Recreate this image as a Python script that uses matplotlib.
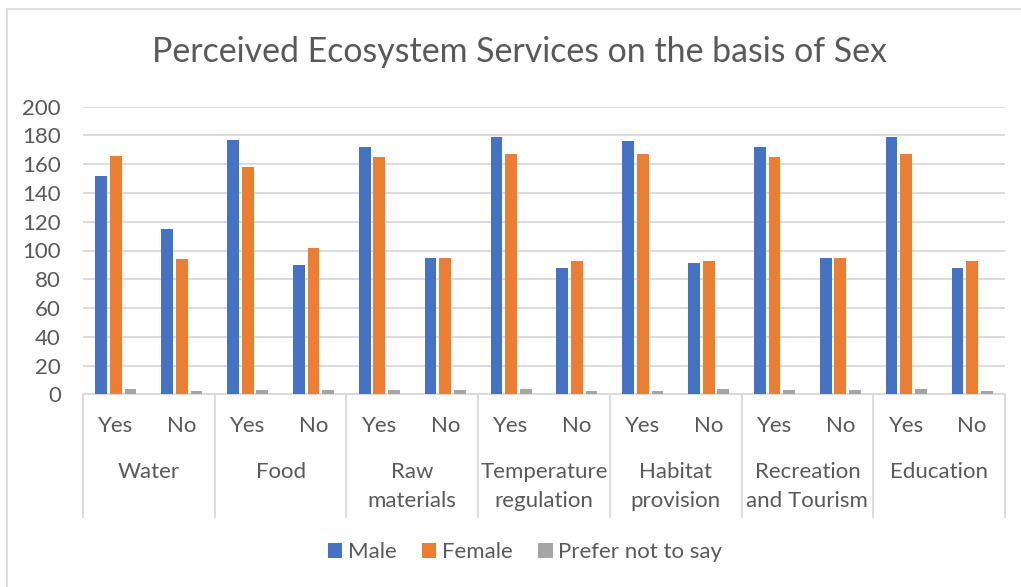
import matplotlib
matplotlib.use("Agg")
import matplotlib.pyplot as plt
from matplotlib.patches import Rectangle
import numpy as np

plt.rcParams['font.family'] = ['Lato', 'DejaVu Sans']

# Data
groups = [["Water"], ["Food"], ["Raw", "materials"], ["Temperature", "regulation"],
          ["Habitat", "provision"], ["Recreation", "and Tourism"], ["Education"]]
answers = ["Yes", "No"]
series_names = ["Male", "Female", "Prefer not to say"]
male = [152, 115, 177, 90, 172, 95, 179, 88, 176, 91, 172, 95, 179, 88]
female = [166, 94, 158, 102, 165, 95, 167, 93, 167, 93, 165, 95, 167, 93]
prefer_not = [4, 2, 3, 3, 3, 3, 4, 2, 2, 4, 3, 3, 4, 2]
yticks = list(range(0, 201, 20))

colors = ["#4472C4", "#ED7D31", "#A5A5A5"]
text_color = "#595959"
grid_color = "#D9D9D9"

W, H = 1021, 587
fig = plt.figure(figsize=(W / 100, H / 100), dpi=100)

# Chart area border
fig.patches.append(Rectangle((7 / W, -0.1), 2, 1 - 9 / H + 0.1, transform=fig.transFigure,
                             fill=False, edgecolor=grid_color, linewidth=1.2))

x0, x1 = 83, 1005
y_top, y_bot = 106.7, 394.3
ax = fig.add_axes([x0 / W, 1 - y_bot / H, (x1 - x0) / W, (y_bot - y_top) / H])

n = len(male)
x = np.arange(n)
offset = 0.223
width = 0.178
for i, (vals, c, name) in enumerate(zip([male, female, prefer_not], colors, series_names)):
    ax.bar(x + (i - 1) * offset, vals, width=width, color=c, label=name, zorder=3)

fs = 16
ax.set_xlim(-0.5, n - 0.5)
ax.set_ylim(0, 200)
ax.set_yticks(yticks)
ax.set_yticklabels([str(v) for v in yticks], fontsize=fs, color=text_color)
ax.tick_params(axis='y', length=0, pad=16)
ax.set_xticks([])
ax.yaxis.grid(True, color=grid_color, linewidth=1.3, zorder=0)
for s in ["top", "right", "left"]:
    ax.spines[s].set_visible(False)
ax.spines["bottom"].set_color(grid_color)
ax.spines["bottom"].set_linewidth(1.3)

axh = y_bot - y_top
trans = ax.get_xaxis_transform()

# Inner category labels (Yes / No)
for i in range(n):
    ax.text(i, -(426 - y_bot) / axh, answers[i % 2], transform=trans, ha='center', va='center',
            fontsize=fs, color=text_color)

# Outer group labels
for g, lines in enumerate(groups):
    cx = 2 * g + 0.5
    for k, line in enumerate(lines):
        yy = 472 + 29 * k
        ax.text(cx, -(yy - y_bot) / axh, line, transform=trans, ha='center', va='center',
                fontsize=fs, color=text_color)

# Group separators
for b in np.arange(-0.5, n, 2):
    ax.plot([b, b], [0, -(517 - y_bot) / axh], transform=trans, color=grid_color,
            linewidth=1.3, clip_on=False)

fig.text(519 / W, 1 - 52 / H, "Perceived Ecosystem Services on the basis of Sex",
         ha='center', va='center', fontsize=24.4, color=text_color)

leg = fig.legend(loc='center', bbox_to_anchor=(525 / W, 1 - 552 / H), ncol=3, frameon=False,
                 fontsize=fs, handlelength=0.65, handleheight=0.65, handletextpad=0.25,
                 columnspacing=1.15, borderpad=0)
for t in leg.get_texts():
    t.set_color(text_color)

fig.savefig("out.png", dpi=100, facecolor="white")
